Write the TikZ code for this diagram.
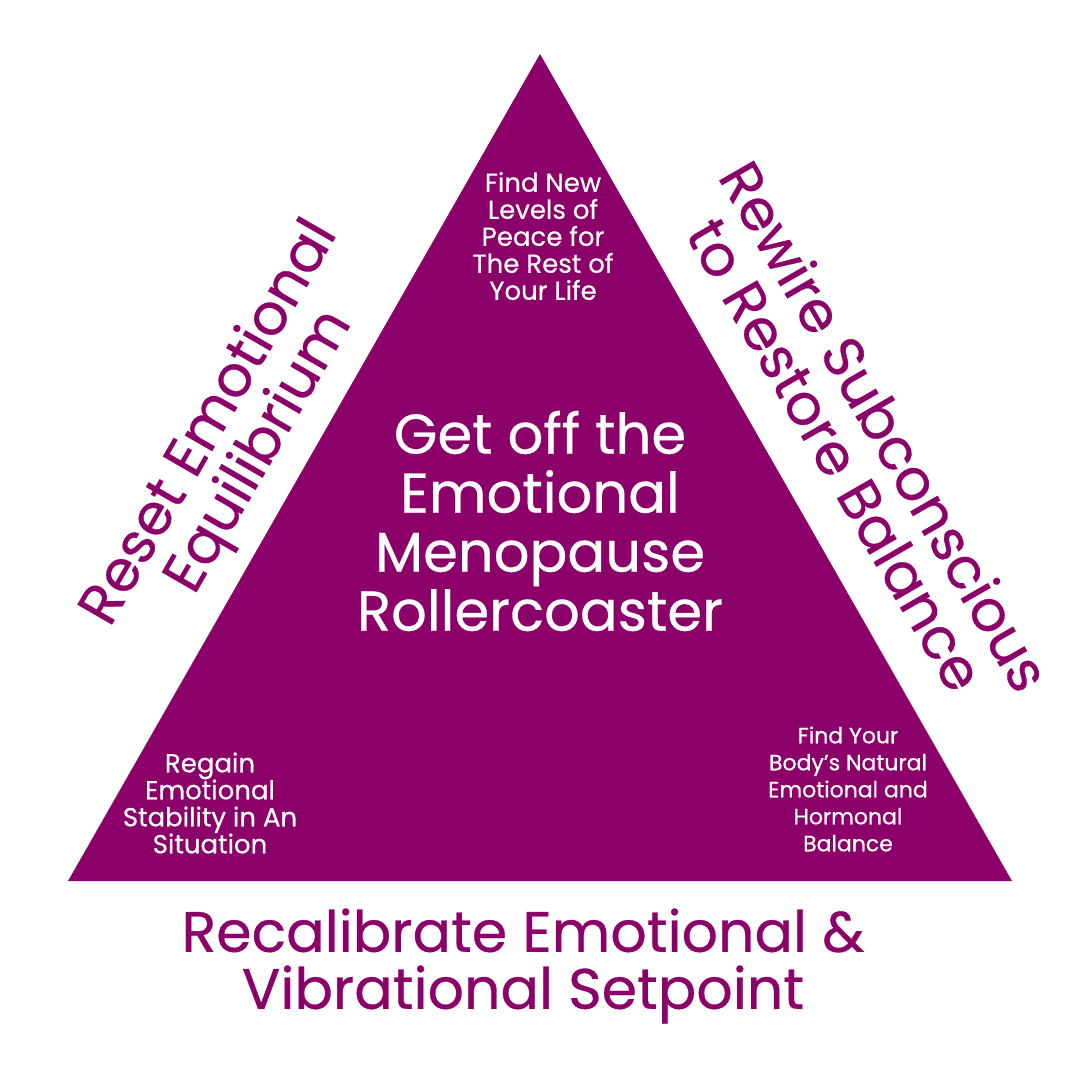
\documentclass[tikz,border=0pt]{standalone}
\usepackage{fontspec}
\setmainfont{Poppins}[FakeBold=0.5]
\usetikzlibrary{positioning}
\definecolor{plum}{HTML}{8C0069}

\begin{document}
\begin{tikzpicture}[x=0.5pt,y=-0.5pt,
  small/.style={font=\fontsize{13}{13.5}\selectfont,text=white,align=center},
  big/.style={font=\fontsize{28}{29.5}\selectfont,text=white,align=center},
  side/.style={font=\fontsize{28.5}{28.5}\selectfont,text=plum,align=center}]
  \useasboundingbox[fill=white] (0,0) rectangle (1080,1080);

  % Triangle
  \coordinate (top) at (540,54);
  \coordinate (bl) at (68,881);
  \coordinate (br) at (1012,881);
  \fill[plum] (top) -- (br) -- (bl) -- cycle;

  % Inside
  \node[big] (core) at (540,521) {Get off the\\Emotional\\Menopause\\Rollercoaster};
  \node[small] (peace) at (543,236) {Find New\\Levels of\\Peace for\\The Rest of\\Your Life};
  \node[small] (stability) at (210,803) {Regain\\Emotional\\Stability in An\\Situation};
  \node[small,font=\fontsize{11}{13.5}\selectfont] (hormonal) at (848,789) {Find Your\\Body’s Natural\\Emotional and\\Hormonal\\Balance};

  % Sides
  \node[side,rotate=60] (reset) at (236,438) {Reset Emotional\\Equilibrium};
  \node[side,rotate=-60] (rewire) at (861,440) {Rewire Subconscious\\to Restore Balance};
  \node[side] (recal) at (523,966) {Recalibrate Emotional \&\\Vibrational Setpoint};
\end{tikzpicture}
\end{document}
